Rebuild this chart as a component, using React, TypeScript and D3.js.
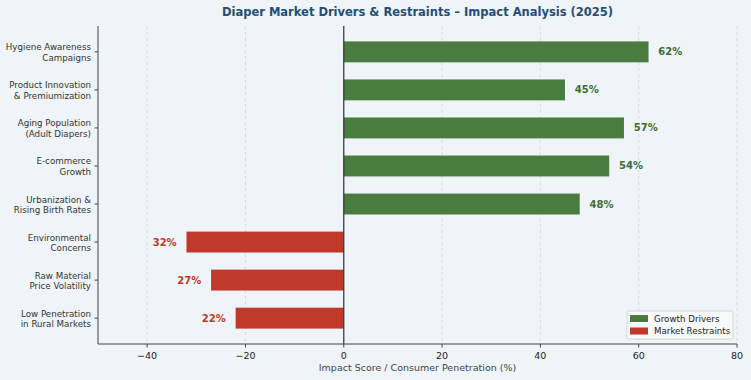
import React from "react";
import * as d3 from "d3";

const categories = [
  ["Hygiene Awareness", "Campaigns"],
  ["Product Innovation", "& Premiumization"],
  ["Aging Population", "(Adult Diapers)"],
  ["E-commerce", "Growth"],
  ["Urbanization &", "Rising Birth Rates"],
  ["Environmental", "Concerns"],
  ["Raw Material", "Price Volatility"],
  ["Low Penetration", "in Rural Markets"],
];
const values = [62, 45, 57, 54, 48, -32, -27, -22];
const xTicks = [-40, -20, 0, 20, 40, 60, 80];
const legendLabels = ["Growth Drivers", "Market Restraints"];

const W = 751;
const H = 380;
const L = 98, R = 737, T = 26, B = 344;
const GREEN = "#4a7c3f";
const RED = "#c0392b";
const BG = "#eff4f8";
const FONT = "DejaVu Sans, sans-serif";

export default function App() {
  const x = d3.scaleLinear().domain([-50, 80]).range([L, R]);
  const y = d3.scaleLinear().domain([-0.68, 7.68]).range([T, B]);
  const bh = y(0.275) - y(0);
  return (
    <svg width={W} height={H} style={{ display: "block", position: "absolute", left: 0, top: 0 }} fontFamily={FONT}>
      <rect x={0} y={0} width={W} height={H} fill={BG} />
      {xTicks.map((t) => (
        <line key={"g" + t} x1={x(t)} x2={x(t)} y1={T} y2={B} stroke="#cfd6dd" strokeWidth={0.8} strokeDasharray="3,3" />
      ))}
      {values.map((v, i) => (
        <rect
          key={"b" + i}
          x={x(Math.min(0, v))}
          y={y(i) - bh}
          width={Math.abs(x(v) - x(0))}
          height={bh * 2}
          fill={v >= 0 ? GREEN : RED}
        />
      ))}
      {values.map((v, i) => (
        <text
          key={"v" + i}
          x={v >= 0 ? x(v + 2) : x(v - 2)}
          y={y(i)}
          dy="0.35em"
          textAnchor={v >= 0 ? "start" : "end"}
          fontSize={10}
          fontWeight="bold"
          fill={v >= 0 ? "#3d6e33" : RED}
        >
          {Math.abs(v)}%
        </text>
      ))}
      <line x1={x(0)} x2={x(0)} y1={T} y2={B} stroke="#333" strokeWidth={1.2} />
      <line x1={L} x2={L} y1={T} y2={B} stroke="#444" strokeWidth={1} />
      <line x1={L} x2={R} y1={B} y2={B} stroke="#444" strokeWidth={1} />
      {xTicks.map((t) => (
        <g key={"t" + t}>
          <line x1={x(t)} x2={x(t)} y1={B} y2={B + 3.5} stroke="#444" />
          <text x={x(t)} y={B + 15} textAnchor="middle" fontSize={9.5} fill="#222">
            {t < 0 ? "\u2212" + Math.abs(t) : t}
          </text>
        </g>
      ))}
      {categories.map((c, i) => (
        <g key={"c" + i}>
          <line x1={L - 3.5} x2={L} y1={y(i)} y2={y(i)} stroke="#444" />
          <text x={L - 7} y={y(i) - 1.5} textAnchor="end" fontSize={8.7} fill="#333">
            {c[0]}
          </text>
          <text x={L - 7} y={y(i) + 9} textAnchor="end" fontSize={8.7} fill="#333">
            {c[1]}
          </text>
        </g>
      ))}
      <text x={(L + R) / 2} y={371} textAnchor="middle" fontSize={9.5} fill="#444">
        Impact Score / Consumer Penetration (%)
      </text>
      <text x={(L + R) / 2} y={16} textAnchor="middle" fontSize={11.5} fontWeight="bold" fill="#1f4e79">
        Diaper Market Drivers &amp; Restraints – Impact Analysis (2025)
      </text>
      <g>
        <rect x={627} y={311} width={106} height={28} fill="#f7f9fb" stroke="#d0d0d0" strokeWidth={0.8} rx={2} />
        {legendLabels.map((lab, i) => (
          <g key={"l" + i}>
            <rect x={630} y={315 + i * 12.5} width={18} height={7} fill={i === 0 ? GREEN : RED} />
            <text x={654} y={318.5 + i * 12.5} dy="0.35em" fontSize={8.7} fill="#222">
              {lab}
            </text>
          </g>
        ))}
      </g>
    </svg>
  );
}
